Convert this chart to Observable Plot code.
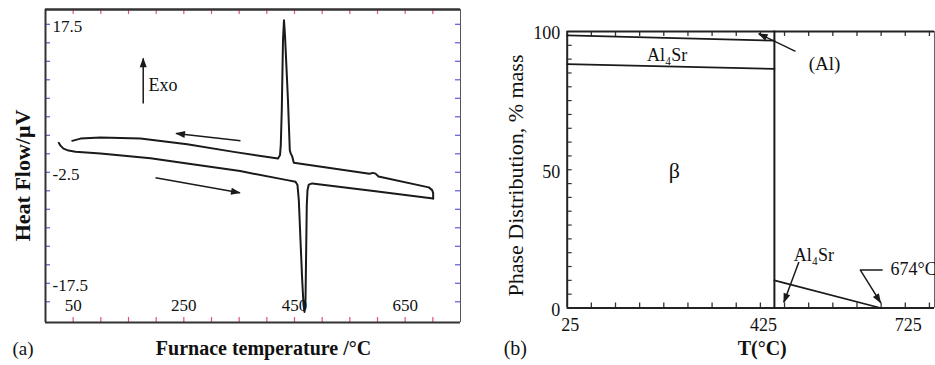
<!DOCTYPE html>
<html><head><meta charset="utf-8">
<script src="https://cdn.jsdelivr.net/npm/d3@7"></script>
<script src="https://cdn.jsdelivr.net/npm/@observablehq/plot@0.6"></script>
<style>
html,body{margin:0;padding:0;background:#fff;}
#wrap{position:relative;width:935px;height:365px;overflow:hidden;background:#fff;}
#pa,#pb{position:absolute;top:0;}
#pa{left:0;} #pb{left:470px;}
svg text{font-family:"Liberation Serif","Times New Roman",serif;}
</style></head><body><div id="wrap"><div id="pa"></div><div id="pb"></div></div>
<script>
// ---------- Panel (a): DSC heat flow ----------
const heatT = [24.0, 27.1, 32.5, 41.6, 54.2, 99.4, 189.8, 256.1, 351.8, 436.8, 451.8, 455.4, 457.8, 460.8, 463.9, 466.3, 468.1, 469.9, 471.1, 472.2, 473.5, 475.8, 482.0, 592.8, 700.6];
const heatQ = [1.48, 1.10, 0.70, 0.43, 0.29, 0.05, -0.59, -1.30, -2.34, -3.56, -3.78, -4.23, -6.25, -11.65, -17.05, -20.43, -21.37, -19.75, -13.0, -6.93, -4.91, -4.16, -4.0, -5.03, -6.03];
const coolT = [700.6, 700.6, 698.8, 692.7, 601.8, 596.4, 591.8, 585.5, 448.7, 445.8, 443.3, 441.5, 438.2, 432.8, 431.0, 429.2, 427.0, 425.2, 423.8, 420.2, 340.3, 256.1, 171.7, 99.4, 63.3, 48.3];
const coolQ = [-6.03, -5.31, -4.91, -4.54, -3.06, -2.68, -2.58, -2.69, -1.22, -0.32, 0.02, 0.49, 7.24, 16.02, 18.04, 15.34, 5.89, 1.17, -0.18, -0.65, 0.26, 1.30, 2.07, 2.21, 2.05, 1.75];
const aXDomain = [0, 750];
const aYDomain = [-22.8, 19.5];
const aXTicks = [50, 100, 150, 200, 250, 300, 350, 400, 450, 500, 550, 600, 650, 700];
const aYTicks = [-20, -17.5, -15, -12.5, -10, -7.5, -5, -2.5, 0, 2.5, 5, 7.5, 10, 12.5, 15, 17.5];
const aXTickLabels = [50, 250, 450, 650];
const aYTickLabels = [17.5, -2.5, -17.5];
// annotation arrows (cooling direction, heating direction, Exo)
const aArrowFromT = [352.4, 198.8, 176.6];
const aArrowFromQ = [1.75, -3.24, 6.8];
const aArrowToT = [236.2, 351.1, 176.6];
const aArrowToQ = [2.75, -5.27, 12.87];

// ---------- Panel (b): phase distribution ----------
const bAlT = [25, 454];        const bAlP = [98.6, 96.7];
const bBetaT = [25, 454];      const bBetaP = [88.2, 86.5];
const bTransT = [454, 454];    const bTransP = [0, 100];
const bLiqT = [454, 674];      const bLiqP = [10, 0];
const bXDomain = [25, 785.5];
const bYDomain = [0, 100];
const bXTicks = [75, 125, 175, 225, 275, 325, 375, 425, 475, 525, 575, 625, 675, 725, 775];
const bYTicks = [5, 10, 15, 20, 25, 30, 35, 40, 45, 50, 55, 60, 65, 70, 75, 80, 85, 90, 95];
const bXTickLabels = [25, 425, 725];
const bYTickLabels = [0, 50, 100];
const bArrowFromT = [497.7, 504.7];
const bArrowFromP = [92.8, 16.6];
const bArrowToT = [421.7, 473.6];
const bArrowToP = [99.2, 2.1];
const bBentT = [677, 632, 673.7];
const bBentP = [13.7, 13.7, 2.0];

const FONT = '"Liberation Serif","Times New Roman",serif';
const RED = "#e0507a", BLUE = "#5a5ad8", INK = "#1a1a1a";

function fixMarkers(svg) {
  d3.select(svg).selectAll("marker").each(function () {
    const m = d3.select(this);
    const c = m.attr("stroke") || INK;
    m.attr("viewBox", "-9 -4 10 8").attr("markerWidth", 7.3).attr("markerHeight", 5.84)
     .attr("fill", c).attr("stroke", "none");
    m.select("path").attr("d", "M-8,-3.2L1,0L-8,3.2Z");
  });
}

// Panel A
const aM = {l: 45, r: 10, t: 9, b: 43}, aW = 470, aH = 365;
const aFW = aW - aM.l - aM.r, aFH = aH - aM.t - aM.b;
const heating = heatT.map((t, i) => ({t, q: heatQ[i]}));
const cooling = coolT.map((t, i) => ({t, q: coolQ[i]}));
const aArrows = aArrowFromT.map((t, i) => ({x1: t, y1: aArrowFromQ[i], x2: aArrowToT[i], y2: aArrowToQ[i]}));

const plotA = Plot.plot({
  width: aW, height: aH,
  marginLeft: aM.l, marginRight: aM.r, marginTop: aM.t, marginBottom: aM.b,
  x: {domain: aXDomain, axis: null},
  y: {domain: aYDomain, axis: null},
  style: {fontFamily: FONT, background: "white", color: "#111", overflow: "visible"},
  marks: [
    Plot.ruleX(aXTicks, {x: d => d, insetTop: aFH - 5, stroke: RED, strokeWidth: 1.2}),
    Plot.ruleX(aXTicks, {x: d => d, insetBottom: aFH - 5, stroke: RED, strokeWidth: 1.2}),
    Plot.ruleY(aYTicks, {y: d => d, insetRight: aFW - 5, stroke: BLUE, strokeWidth: 1.2}),
    Plot.ruleY(aYTicks, {y: d => d, insetLeft: aFW - 5, stroke: BLUE, strokeWidth: 1.2}),
    Plot.ruleX([aXDomain[1]], {x: d => d, stroke: "#555", strokeWidth: 1}),
    Plot.ruleY([aYDomain[1]], {y: d => d, stroke: "#333", strokeWidth: 2.5}),
    Plot.ruleX([aXDomain[0]], {x: d => d, stroke: "#333", strokeWidth: 2}),
    Plot.ruleY([aYDomain[0]], {y: d => d, stroke: "#333", strokeWidth: 2}),
    Plot.line(heating, {x: "t", y: "q", stroke: INK, strokeWidth: 2}),
    Plot.line(cooling, {x: "t", y: "q", stroke: INK, strokeWidth: 2}),
    Plot.link(aArrows, {x1: "x1", y1: "y1", x2: "x2", y2: "y2", stroke: INK, strokeWidth: 1.5, markerEnd: "arrow"}),
    Plot.text(aXTickLabels, {x: d => d, frameAnchor: "bottom", lineAnchor: "middle", textAnchor: "middle", dy: -17, fontSize: 17, text: d => String(d)}),
    Plot.text(aYTickLabels, {y: d => d, frameAnchor: "left", lineAnchor: "middle", textAnchor: "start", dx: 7, dy: 2, fontSize: 17, text: d => String(d)}),
    Plot.text(["Exo"], {x: [186], y: [9.27], textAnchor: "start", fontSize: 18, text: d => d}),
    Plot.text(["Heat Flow/μV"], {frameAnchor: "left", textAnchor: "middle", lineAnchor: "middle", dx: -23, dy: 9.5, rotate: -90, fontSize: 22, fontWeight: "bold", text: d => d}),
    Plot.text(["Furnace temperature /°C"], {frameAnchor: "bottom", textAnchor: "middle", lineAnchor: "middle", dx: 10.5, dy: 26, fontSize: 20, fontWeight: "bold", text: d => d}),
    Plot.text(["(a)"], {frameAnchor: "bottom-left", textAnchor: "middle", lineAnchor: "middle", dx: -22.5, dy: 26, fontSize: 19, text: d => d})
  ]
});
fixMarkers(plotA);
document.getElementById("pa").appendChild(plotA);

// Panel B
const bM = {l: 96.7, r: 1, t: 31, b: 57.5}, bW = 465, bH = 365;
const bFW = bW - bM.l - bM.r, bFH = bH - bM.t - bM.b;
const toRows = (T, P) => T.map((t, i) => ({t, p: P[i]}));
const bArrows = bArrowFromT.map((t, i) => ({x1: t, y1: bArrowFromP[i], x2: bArrowToT[i], y2: bArrowToP[i]}));

const plotB = Plot.plot({
  width: bW, height: bH,
  marginLeft: bM.l, marginRight: bM.r, marginTop: bM.t, marginBottom: bM.b,
  x: {domain: bXDomain, axis: null},
  y: {domain: bYDomain, axis: null},
  style: {fontFamily: FONT, background: "white", color: "#111", overflow: "visible"},
  marks: [
    Plot.ruleX(bXTicks, {x: d => d, insetTop: bFH - 5, stroke: "#333", strokeWidth: 1.3}),
    Plot.ruleX(bXTicks, {x: d => d, insetBottom: bFH - 5, stroke: "#333", strokeWidth: 1.3}),
    Plot.ruleY(bYTicks, {y: d => d, insetRight: bFW - 5, stroke: "#333", strokeWidth: 1.2}),
    Plot.ruleX([bXDomain[1]], {x: d => d, stroke: "#666", strokeWidth: 1}),
    Plot.ruleY([bYDomain[1]], {y: d => d, stroke: "#222", strokeWidth: 1.8}),
    Plot.ruleX([bXDomain[0]], {x: d => d, stroke: "#222", strokeWidth: 2}),
    Plot.ruleY([bYDomain[0]], {y: d => d, stroke: "#222", strokeWidth: 2.2}),
    Plot.line(toRows(bAlT, bAlP), {x: "t", y: "p", stroke: INK, strokeWidth: 1.8}),
    Plot.line(toRows(bBetaT, bBetaP), {x: "t", y: "p", stroke: INK, strokeWidth: 1.8}),
    Plot.line(toRows(bTransT, bTransP), {x: "t", y: "p", stroke: INK, strokeWidth: 2}),
    Plot.line(toRows(bLiqT, bLiqP), {x: "t", y: "p", stroke: INK, strokeWidth: 1.8}),
    Plot.link(bArrows, {x1: "x1", y1: "y1", x2: "x2", y2: "y2", stroke: INK, strokeWidth: 1.5, markerEnd: "arrow"}),
    Plot.line(toRows(bBentT, bBentP), {x: "t", y: "p", stroke: INK, strokeWidth: 1.5, markerEnd: "arrow"}),
    Plot.text(bXTickLabels, {x: d => d, frameAnchor: "bottom", textAnchor: "middle", lineAnchor: "middle", dx: 3, dy: 17.5, fontSize: 18, text: d => String(d)}),
    Plot.text(bYTickLabels, {y: d => d, frameAnchor: "left", textAnchor: "end", lineAnchor: "middle", dx: -7, dy: 2, fontSize: 18, text: d => String(d)}),
    Plot.text(["Al₄Sr"], {x: [232], y: [91.3], fontSize: 18, text: d => d}),
    Plot.text(["β"], {x: [247], y: [49.7], fontSize: 22, text: d => d}),
    Plot.text(["(Al)"], {x: [557.7], y: [88.3], fontSize: 19, text: d => d}),
    Plot.text(["Al₄Sr"], {x: [535.6], y: [19], fontSize: 18, text: d => d}),
    Plot.text(["674°C"], {x: [694.4], y: [14.2], textAnchor: "start", fontSize: 18, text: d => d}),
    Plot.text(["Phase Distribution, % mass"], {frameAnchor: "left", textAnchor: "middle", lineAnchor: "middle", dx: -51.7, dy: 5.75, rotate: -90, fontSize: 22, text: d => d}),
    Plot.text(["T(°C)"], {frameAnchor: "bottom-left", textAnchor: "middle", lineAnchor: "middle", dx: 195, dy: 40.8, fontSize: 20, fontWeight: "bold", text: d => d}),
    Plot.text(["(b)"], {frameAnchor: "bottom-left", textAnchor: "middle", lineAnchor: "middle", dx: -51.9, dy: 40.5, fontSize: 20, text: d => d})
  ]
});
fixMarkers(plotB);
document.getElementById("pb").appendChild(plotB);
</script>
</body></html>
